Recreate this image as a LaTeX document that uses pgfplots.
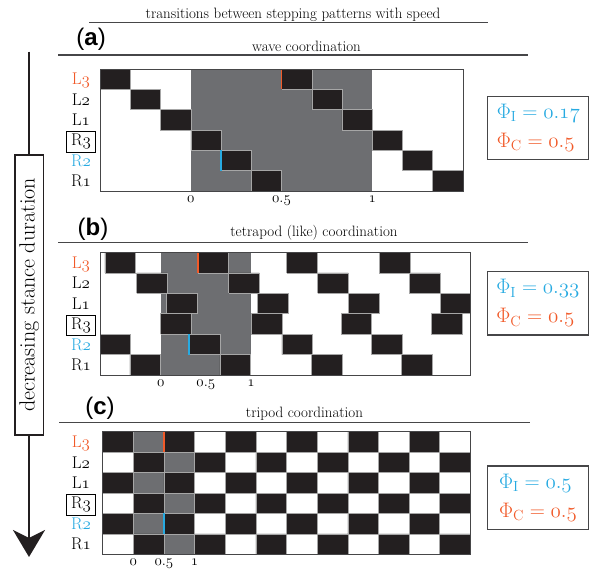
\RequirePackage{fix-cm}
\documentclass[border=0pt]{standalone}
\usepackage{fontspec}
\usepackage{pgfplots}
\pgfplotsset{compat=1.18}
\usetikzlibrary{arrows.meta}
\newfontfamily\arialf{Liberation Sans}
\definecolor{lred}{RGB}{241,90,41}
\definecolor{lblue}{RGB}{39,170,225}
\definecolor{lgray}{RGB}{109,110,113}
\definecolor{lblk}{RGB}{35,31,32}
\definecolor{lline}{RGB}{70,70,72}
\newcommand\osn[1]{\ensuremath{\mathnormal{#1}}}
\newcommand\fs[1]{\fontsize{#1}{#1}\selectfont}
\setlength\fboxrule{0.8pt}
\setlength\fboxsep{2.5pt}
\pgfplotsset{
  gait/.style={
    scale only axis, anchor=south west,
    ymin=0, ymax=6,
    axis on top,
    axis line style={draw=lline, line width=0.8pt},
    major tick length=0pt,
    xtick={0,0.5,1},
    xticklabels={\osn{0},\osn{0.5},\osn{1}},
    xticklabel style={anchor=base, yshift=-11pt, font=\fs{15}},
    ytick={0.5,1.5,2.5,3.5,4.5,5.5},
    yticklabels={R\osn{1}, \textcolor{lblue}{R\osn{2}}, \fbox{\hspace{1.5pt}R\osn{3}\hspace{1.5pt}}, L\osn{1}, L\osn{2}, \textcolor{lred}{L\osn{3}}},
    yticklabel style={anchor=center, font=\fs{17}, text height=12.5pt, text depth=1pt},
    unbounded coords=jump,
  },
  blk/.style={fill=lblk, draw=black!35, line width=0.5pt},
  mk/.style={line width=1.8pt},
}
\begin{document}
\begin{tikzpicture}
\path[use as bounding box] (0pt,0pt) rectangle (595pt,-571pt);
% main title
\node[anchor=base, font=\fs{15}, inner sep=0pt] at (293pt,-18.3pt) {transitions between stepping patterns with speed};
\draw[lline, line width=1.2pt] (89pt,-22.7pt) -- (488pt,-22.7pt);
% left arrow
\draw[lblk, line width=2.6pt, -{Stealth[length=27pt, width=32pt, inset=8pt]}] (29pt,-51.7pt) -- (29pt,-557pt);
\node[draw=lblk, line width=1.2pt, fill=white, rotate=90, minimum width=280pt, minimum height=28.3pt, font=\fs{22}, inner sep=0pt] at (29.2pt,-295pt) {decreasing stance duration};

% ---------------- (a)
\node[font=\arialf\fs{24}, inner sep=0pt] at (91pt,-39.5pt) {(\textbf{a})};
\node[anchor=base, font=\fs{15}, inner sep=0pt] at (306.5pt,-51.7pt) {wave coordination};
\draw[lline, line width=1.2pt] (58pt,-55pt) -- (528pt,-55pt);
\begin{axis}[gait, at={(100pt,-191pt)}, width=363pt, height=122pt, xmin=-0.5, xmax=1.5,
  yticklabel style={xshift=-19pt}]
\addplot[fill=lgray, draw=none] coordinates {(0,0)(1,0)(1,6)(0,6)};
\addplot[blk] coordinates {
(-0.5,5)(-0.3333,5)(-0.3333,6)(-0.5,6)(-0.5,5)(nan,nan)
(0.5,5)(0.6667,5)(0.6667,6)(0.5,6)(0.5,5)(nan,nan)
(-0.3333,4)(-0.1667,4)(-0.1667,5)(-0.3333,5)(-0.3333,4)(nan,nan)
(0.6667,4)(0.8333,4)(0.8333,5)(0.6667,5)(0.6667,4)(nan,nan)
(-0.1667,3)(0,3)(0,4)(-0.1667,4)(-0.1667,3)(nan,nan)
(0.8333,3)(1,3)(1,4)(0.8333,4)(0.8333,3)(nan,nan)
(0,2)(0.1667,2)(0.1667,3)(0,3)(0,2)(nan,nan)
(1,2)(1.1667,2)(1.1667,3)(1,3)(1,2)(nan,nan)
(0.1667,1)(0.3333,1)(0.3333,2)(0.1667,2)(0.1667,1)(nan,nan)
(1.1667,1)(1.3333,1)(1.3333,2)(1.1667,2)(1.1667,1)(nan,nan)
(0.3333,0)(0.5,0)(0.5,1)(0.3333,1)(0.3333,0)(nan,nan)
(1.3333,0)(1.5,0)(1.5,1)(1.3333,1)(1.3333,0)
};
\addplot[lred, mk] coordinates {(0.5,5)(0.5,6)};
\addplot[lblue, mk] coordinates {(0.1667,1)(0.1667,2)};
\end{axis}
\node[draw=lline, line width=1.2pt, minimum width=101pt, minimum height=63pt, align=left, font={\fontsize{21}{29}\selectfont}, inner sep=2pt] at (538.3pt,-128pt)
  {\textcolor{lblue}{$\Phi_{\mathrm{I}} = \mathnormal{0.17}$}\\\textcolor{lred}{$\Phi_{\mathrm{C}} = \mathnormal{0.5}$}};

% ---------------- (b)
\node[font=\arialf\fs{24}, inner sep=0pt] at (93pt,-229.5pt) {(\textbf{b})};
\node[anchor=base, font=\fs{15}, inner sep=0pt] at (314pt,-236.7pt) {tetrapod (like) coordination};
\draw[lline, line width=1.2pt] (58pt,-242.3pt) -- (528pt,-242.3pt);
\begin{axis}[gait, at={(100pt,-375pt)}, width=370.3pt, height=122.7pt, xmin=-0.672, xmax=3.427,
  yticklabel style={xshift=-19pt}]
\addplot[fill=lgray, draw=none] coordinates {(0,0)(1,0)(1,6)(0,6)};
\addplot[blk] coordinates {
(-0.617,5)(-0.277,5)(-0.277,6)(-0.617,6)(-0.617,5)(nan,nan)
(0.41,5)(0.75,5)(0.75,6)(0.41,6)(0.41,5)(nan,nan)
(1.395,5)(1.735,5)(1.735,6)(1.395,6)(1.395,5)(nan,nan)
(2.42,5)(2.76,5)(2.76,6)(2.42,6)(2.42,5)(nan,nan)
(-0.266,4)(0.074,4)(0.074,5)(-0.266,5)(-0.266,4)(nan,nan)
(0.753,4)(1.093,4)(1.093,5)(0.753,5)(0.753,4)(nan,nan)
(1.738,4)(2.078,4)(2.078,5)(1.738,5)(1.738,4)(nan,nan)
(2.749,4)(3.089,4)(3.089,5)(2.749,5)(2.749,4)(nan,nan)
(0.066,3)(0.406,3)(0.406,4)(0.066,4)(0.066,3)(nan,nan)
(1.074,3)(1.414,3)(1.414,4)(1.074,4)(1.074,3)(nan,nan)
(2.077,3)(2.417,3)(2.417,4)(2.077,4)(2.077,3)(nan,nan)
(3.092,3)(3.427,3)(3.427,4)(3.092,4)(3.092,3)(nan,nan)
(0,2)(0.34,2)(0.34,3)(0,3)(0,2)(nan,nan)
(1,2)(1.34,2)(1.34,3)(1,3)(1,2)(nan,nan)
(1.996,2)(2.336,2)(2.336,3)(1.996,3)(1.996,2)(nan,nan)
(2.996,2)(3.336,2)(3.336,3)(2.996,3)(2.996,2)(nan,nan)
(-0.672,1)(-0.335,1)(-0.335,2)(-0.672,2)(-0.672,1)(nan,nan)
(0.317,1)(0.657,1)(0.657,2)(0.317,2)(0.317,1)(nan,nan)
(1.34,1)(1.68,1)(1.68,2)(1.34,2)(1.34,1)(nan,nan)
(2.336,1)(2.676,1)(2.676,2)(2.336,2)(2.336,1)(nan,nan)
(-0.34,0)(0,0)(0,1)(-0.34,1)(-0.34,0)(nan,nan)
(0.656,0)(0.996,0)(0.996,1)(0.656,1)(0.656,0)(nan,nan)
(1.664,0)(2.004,0)(2.004,1)(1.664,1)(1.664,0)(nan,nan)
(2.668,0)(3.008,0)(3.008,1)(2.668,1)(2.668,0)
};
\addplot[lred, mk] coordinates {(0.41,5)(0.41,6)};
\addplot[lblue, mk] coordinates {(0.317,1)(0.317,2)};
\end{axis}
\node[draw=lline, line width=1.2pt, minimum width=100.6pt, minimum height=63.3pt, align=left, font={\fontsize{21}{29}\selectfont}, inner sep=2pt] at (538pt,-303.3pt)
  {\textcolor{lblue}{$\Phi_{\mathrm{I}} = \mathnormal{0.33}$}\\\textcolor{lred}{$\Phi_{\mathrm{C}} = \mathnormal{0.5}$}};

% ---------------- (c)
\node[font=\arialf\fs{24}, inner sep=0pt] at (100pt,-408pt) {(\textbf{c})};
\node[anchor=base, font=\fs{15}, inner sep=0pt] at (304.5pt,-417pt) {tripod coordination};
\draw[lline, line width=1.2pt] (59pt,-422.7pt) -- (530pt,-422.7pt);
\begin{axis}[gait, at={(102.7pt,-554.3pt)}, width=367.6pt, height=122.6pt, xmin=-0.5, xmax=5.5,
  yticklabel style={xshift=-21.7pt}]
\addplot[fill=lgray, draw=none] coordinates {(0,0)(1,0)(1,6)(0,6)};
\addplot[blk] coordinates {
(-0.5,5)(0,5)(0,6)(-0.5,6)(-0.5,5)(nan,nan)
(0.5,5)(1,5)(1,6)(0.5,6)(0.5,5)(nan,nan)
(1.5,5)(2,5)(2,6)(1.5,6)(1.5,5)(nan,nan)
(2.5,5)(3,5)(3,6)(2.5,6)(2.5,5)(nan,nan)
(3.5,5)(4,5)(4,6)(3.5,6)(3.5,5)(nan,nan)
(4.5,5)(5,5)(5,6)(4.5,6)(4.5,5)(nan,nan)
(0,4)(0.5,4)(0.5,5)(0,5)(0,4)(nan,nan)
(1,4)(1.5,4)(1.5,5)(1,5)(1,4)(nan,nan)
(2,4)(2.5,4)(2.5,5)(2,5)(2,4)(nan,nan)
(3,4)(3.5,4)(3.5,5)(3,5)(3,4)(nan,nan)
(4,4)(4.5,4)(4.5,5)(4,5)(4,4)(nan,nan)
(5,4)(5.5,4)(5.5,5)(5,5)(5,4)(nan,nan)
(-0.5,3)(0,3)(0,4)(-0.5,4)(-0.5,3)(nan,nan)
(0.5,3)(1,3)(1,4)(0.5,4)(0.5,3)(nan,nan)
(1.5,3)(2,3)(2,4)(1.5,4)(1.5,3)(nan,nan)
(2.5,3)(3,3)(3,4)(2.5,4)(2.5,3)(nan,nan)
(3.5,3)(4,3)(4,4)(3.5,4)(3.5,3)(nan,nan)
(4.5,3)(5,3)(5,4)(4.5,4)(4.5,3)(nan,nan)
(0,2)(0.5,2)(0.5,3)(0,3)(0,2)(nan,nan)
(1,2)(1.5,2)(1.5,3)(1,3)(1,2)(nan,nan)
(2,2)(2.5,2)(2.5,3)(2,3)(2,2)(nan,nan)
(3,2)(3.5,2)(3.5,3)(3,3)(3,2)(nan,nan)
(4,2)(4.5,2)(4.5,3)(4,3)(4,2)(nan,nan)
(5,2)(5.5,2)(5.5,3)(5,3)(5,2)(nan,nan)
(-0.5,1)(0,1)(0,2)(-0.5,2)(-0.5,1)(nan,nan)
(0.5,1)(1,1)(1,2)(0.5,2)(0.5,1)(nan,nan)
(1.5,1)(2,1)(2,2)(1.5,2)(1.5,1)(nan,nan)
(2.5,1)(3,1)(3,2)(2.5,2)(2.5,1)(nan,nan)
(3.5,1)(4,1)(4,2)(3.5,2)(3.5,1)(nan,nan)
(4.5,1)(5,1)(5,2)(4.5,2)(4.5,1)(nan,nan)
(0,0)(0.5,0)(0.5,1)(0,1)(0,0)(nan,nan)
(1,0)(1.5,0)(1.5,1)(1,1)(1,0)(nan,nan)
(2,0)(2.5,0)(2.5,1)(2,1)(2,0)(nan,nan)
(3,0)(3.5,0)(3.5,1)(3,1)(3,0)(nan,nan)
(4,0)(4.5,0)(4.5,1)(4,1)(4,0)(nan,nan)
(5,0)(5.5,0)(5.5,1)(5,1)(5,0)
};
\addplot[lred, mk] coordinates {(0.5,5)(0.5,6)};
\addplot[lblue, mk] coordinates {(0.5,1)(0.5,2)};
\end{axis}
\node[draw=lline, line width=1.2pt, minimum width=100.6pt, minimum height=63.3pt, align=left, font={\fontsize{21}{29}\selectfont}, inner sep=2pt] at (538pt,-497.7pt)
  {\textcolor{lblue}{$\Phi_{\mathrm{I}} = \mathnormal{0.5}$}\\\textcolor{lred}{$\Phi_{\mathrm{C}} = \mathnormal{0.5}$}};
\end{tikzpicture}
\end{document}
